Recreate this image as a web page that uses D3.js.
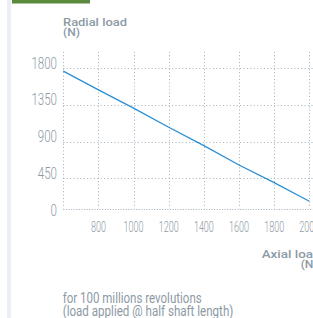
<!DOCTYPE html>
<html>
<head>
<meta charset="utf-8">
<script src="https://cdn.jsdelivr.net/npm/d3@7"></script>
<style>
  html, body { margin: 0; padding: 0; background: #fff; }
  svg { display: block; font-family: Roboto, "Noto Sans", sans-serif; }
  .grid { stroke: #9fb0bd; stroke-width: 1; stroke-dasharray: 1,2.4; fill: none; }
  .title { font-family: Roboto, "Noto Sans", sans-serif; font-weight: 500; }
</style>
</head>
<body>
<svg id="chart" width="313" height="318"></svg>
<script>
// values
var axialLoad  = [600, 800, 1000, 1200, 1400, 1600, 1800, 2000];
var radialLoad = [1763, 1534, 1309, 1076, 850, 613, 396, 168];

var xGridValues = [600, 800, 1000, 1200, 1400, 1600, 1800, 2000];
var xTickLabels = [800, 1000, 1200, 1400, 1600, 1800, 2000];
var yTickLabels = [0, 450, 900, 1350, 1800];

var footerLines = ["for 100 millions revolutions", "(load applied @ half shaft length)"];

var svg = d3.select("#chart");
var grey = "#8c9aa5";

// left stripe + green tab
svg.append("rect").attr("x", 7).attr("y", 0).attr("width", 4).attr("height", 318).attr("fill", "#e9eff2");
svg.append("rect").attr("x", 12).attr("y", 0).attr("width", 78).attr("height", 3.5).attr("fill", "#5b8a3f");

var x = d3.scaleLinear().domain([600, 2000]).range([63.3, 309.3]);
var y = d3.scaleLinear().domain([0, 2000]).range([215, 51.8]);
var plotBottom = 208.5;

function crisp(v){ return Math.round(v) + 0.5; }

// vertical grid
svg.selectAll("line.vgrid").data(xGridValues).enter()
  .append("line")
  .attr("class", "grid vgrid")
  .attr("x1", function(d){ return crisp(x(d)); })
  .attr("x2", function(d){ return crisp(x(d)); })
  .attr("y1", y(2000))
  .attr("y2", plotBottom);

// horizontal grid (only the ones inside the plot)
svg.selectAll("line.hgrid").data(yTickLabels.filter(function(d){ return y(d) < plotBottom; })).enter()
  .append("line")
  .attr("class", "grid hgrid")
  .attr("x1", x(600))
  .attr("x2", 320)
  .attr("y1", function(d){ return crisp(y(d)); })
  .attr("y2", function(d){ return crisp(y(d)); });

// bottom border of the plot
svg.append("line")
  .attr("class", "grid")
  .style("stroke-dasharray", "1,1.6")
  .attr("x1", x(600)).attr("x2", 320)
  .attr("y1", crisp(plotBottom)).attr("y2", crisp(plotBottom));

// condensed labels
function condensed(sel, sx){
  return sel.attr("transform", function(d){ return "translate(" + d.px + "," + d.py + ") scale(" + sx + ",1)"; });
}

condensed(svg.selectAll("text.ylab").data(yTickLabels.map(function(v){ return {v: v, px: 57, py: y(v) + 0.5}; }))
  .enter().append("text")
  .attr("class", "ylab")
  .attr("text-anchor", "end")
  .attr("font-size", 17)
  .attr("font-weight", 300)
  .attr("fill", grey)
  .text(function(d){ return d.v; }), 0.68);

condensed(svg.selectAll("text.xlab").data(xTickLabels.map(function(v){ return {v: v, px: x(v), py: 231.5}; }))
  .enter().append("text")
  .attr("class", "xlab")
  .attr("text-anchor", "middle")
  .attr("font-size", 15)
  .attr("font-weight", 300)
  .attr("fill", grey)
  .text(function(d){ return d.v; }), 0.6);

// the curve
var line = d3.line()
  .x(function(d){ return x(d[0]); })
  .y(function(d){ return y(d[1]); });

svg.append("path")
  .datum(d3.zip(axialLoad, radialLoad))
  .attr("d", line)
  .attr("fill", "none")
  .attr("stroke", "#2a8fd6")
  .attr("stroke-width", 1.3);

// axis titles, each line stretched to the width it has in the picture
function titleLine(txt, px, py, w){
  svg.append("text").attr("class", "title")
    .attr("x", px).attr("y", py)
    .attr("font-size", 11.5)
    .attr("fill", grey)
    .attr("textLength", w)
    .attr("lengthAdjust", "spacingAndGlyphs")
    .text(txt);
}
titleLine("Radial load", 63, 26, 64);
titleLine("(N)", 63, 35.5, 17);
titleLine("Axial load", 261.7, 258, 59);
titleLine("(N)", 300.7, 267.5, 17);

// footer note
svg.selectAll("text.note").data(footerLines).enter()
  .append("text")
  .attr("class", "note")
  .attr("x", 62.7)
  .attr("y", function(d, i){ return 303.3 + i * 12.4; })
  .attr("font-size", 14)
  .attr("fill", grey)
  .attr("textLength", function(d, i){ return i === 0 ? 139 : 170.6; })
  .attr("lengthAdjust", "spacingAndGlyphs")
  .text(function(d){ return d; });
</script>
</body>
</html>
